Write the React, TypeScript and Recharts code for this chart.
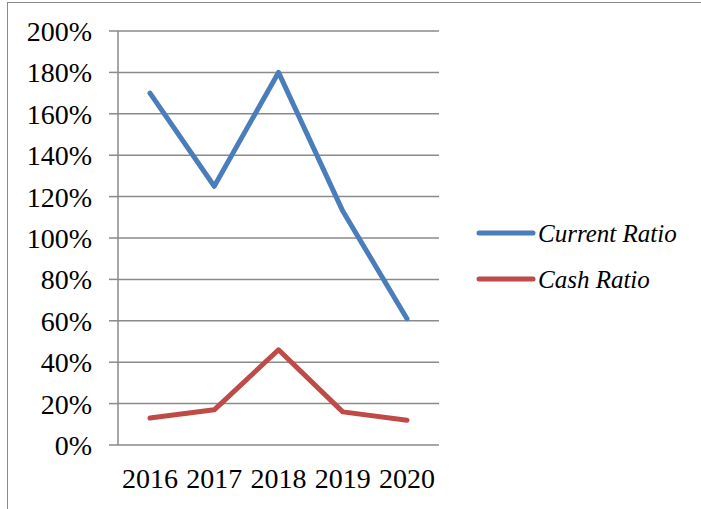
import React from 'react';
import { LineChart, Line, XAxis, YAxis, CartesianGrid, Legend } from 'recharts';

const years = ['2016', '2017', '2018', '2019', '2020'];
const currentRatio = [170, 125, 180, 113, 61];
const cashRatio = [13, 17, 46, 16, 12];
const seriesNames = ['Current Ratio', 'Cash Ratio'];
const percentTicks = [0, 20, 40, 60, 80, 100, 120, 140, 160, 180, 200];
const boundaryTicks = [0, 1, 2, 3, 4, 5];

const data = years.map((year, i) => ({
    year,
    current: currentRatio[i],
    cash: cashRatio[i],
}));

const FONT = '"Liberation Serif", "Times New Roman", serif';
const GRID = '#8a8a8a';

const LegendBox = (props: any) => {
    // keep the series order, not the alphabetical one
    const items = [...(props.payload || [])].sort(
        (a: any, b: any) => seriesNames.indexOf(a.value) - seriesNames.indexOf(b.value)
    );
    return (
        <svg width={224} height={80} style={{ display: 'block', overflow: 'visible' }}>
            {items.map((item: any, i: number) => {
                const cy = 23 + i * 46;
                return (
                    <g key={item.value}>
                        <line
                            x1={3}
                            x2={57}
                            y1={cy}
                            y2={cy}
                            stroke={item.color}
                            strokeWidth={5}
                            strokeLinecap="round"
                        />
                        <text
                            x={62}
                            y={cy + 9}
                            fontFamily={FONT}
                            fontStyle="italic"
                            fontSize={25}
                            fill="#000"
                        >
                            {item.value}
                        </text>
                    </g>
                );
            })}
        </svg>
    );
};

const App = () => {
    return (
        <div style={{ position: 'absolute', left: 0, top: 0, width: 701, height: 509, background: '#fff' }}>
            {/* frame of the chart area (only top and left edges are visible) */}
            <div
                style={{
                    position: 'absolute',
                    left: 7,
                    top: 2,
                    right: 0,
                    bottom: 0,
                    borderTop: `1px solid ${GRID}`,
                    borderLeft: `1px solid ${GRID}`,
                }}
            />
            <LineChart
                width={701}
                height={509}
                data={data}
                margin={{ top: 31, right: 262, left: 0, bottom: 14 }}
                style={{ fontFamily: FONT }}
            >
                <XAxis
                    xAxisId="num"
                    type="number"
                    domain={[0, 5]}
                    ticks={boundaryTicks}
                    allowDataOverflow
                    height={0}
                    tickSize={8}
                    tickFormatter={() => ''}
                    axisLine={{ stroke: GRID, strokeWidth: 1.5 }}
                    tickLine={{ stroke: GRID, strokeWidth: 1.5 }}
                />
                <XAxis
                    dataKey="year"
                    height={50}
                    padding={{ left: 32, right: 32 }}
                    axisLine={false}
                    tickLine={false}
                    tickSize={8}
                    tickMargin={15}
                    interval={0}
                    tick={{ fill: '#000', fontSize: 28, fontFamily: FONT }}
                />
                <YAxis
                    type="number"
                    domain={[0, 200]}
                    ticks={percentTicks}
                    interval={0}
                    width={118}
                    tickSize={9}
                    tickMargin={17}
                    tickFormatter={(v: number) => `${v}%`}
                    axisLine={{ stroke: GRID, strokeWidth: 1.5 }}
                    tickLine={{ stroke: GRID, strokeWidth: 1.5 }}
                    tick={{ fill: '#000', fontSize: 28, fontFamily: FONT }}
                />
                <CartesianGrid vertical={false} stroke={GRID} strokeWidth={1.5} />
                <Legend
                    layout="vertical"
                    align="center"
                    verticalAlign="middle"
                    content={<LegendBox />}
                    wrapperStyle={{ left: 476, top: 210, width: 224 }}
                />
                <Line
                    name={seriesNames[0]}
                    dataKey="current"
                    stroke="#4a7ebb"
                    strokeWidth={5}
                    strokeLinecap="round"
                    strokeLinejoin="round"
                    dot={false}
                    isAnimationActive={false}
                />
                <Line
                    name={seriesNames[1]}
                    dataKey="cash"
                    stroke="#be4b48"
                    strokeWidth={5}
                    strokeLinecap="round"
                    strokeLinejoin="round"
                    dot={false}
                    isAnimationActive={false}
                />
            </LineChart>
        </div>
    );
};

export default App;
